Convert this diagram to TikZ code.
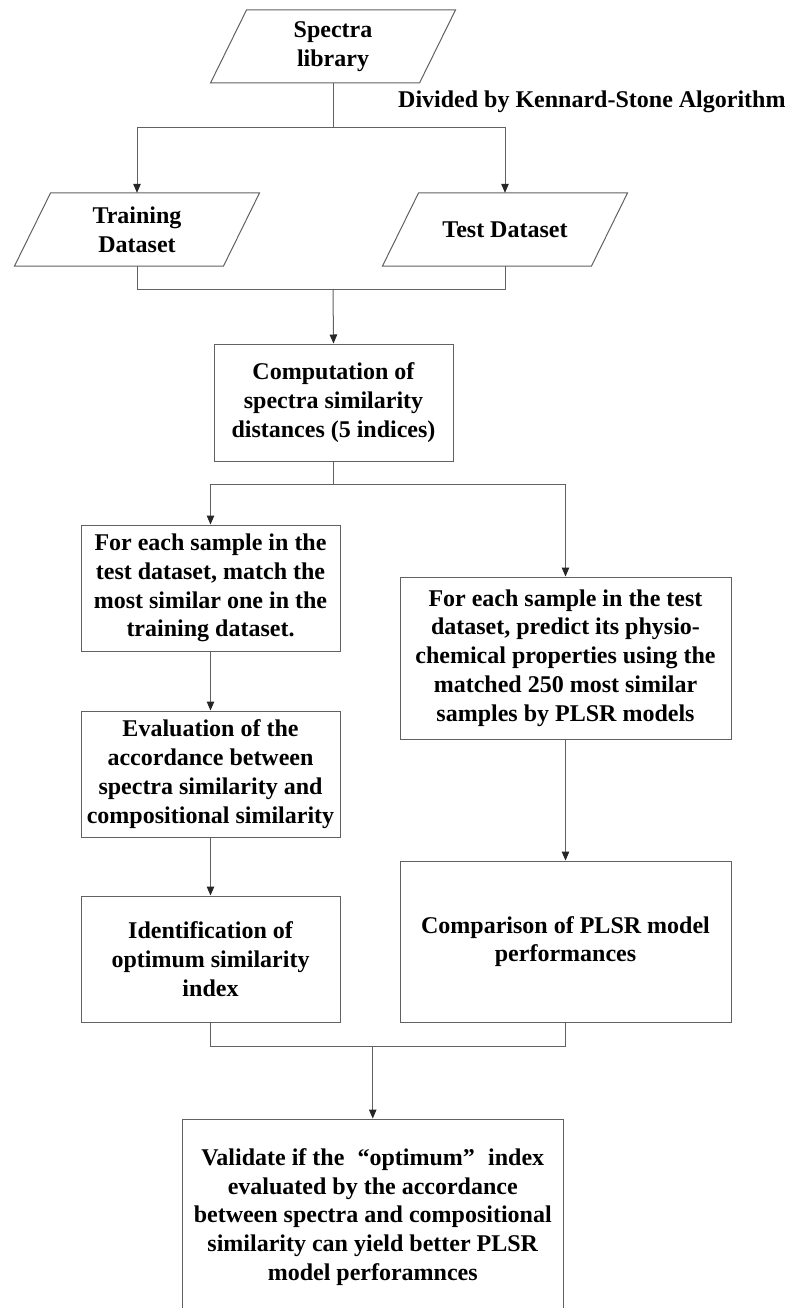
\documentclass[tikz,border=0pt]{standalone}
\usepackage{fontspec}
\setmainfont{Liberation Serif}
\usetikzlibrary{arrows.meta,calc}
\tikzset{
  ln/.style={draw=black!62, line width=1pt},
  arr/.style={ln, -{Triangle[length=9pt,width=7.5pt,color=black!85]}},
  txt/.style={font=\fontsize{24}{28.8}\selectfont\bfseries, align=center, text=black, inner sep=0pt},
  box/.style={txt, ln, rectangle},
  para/.style={txt, minimum height=73pt},
}
\newcommand\paradraw[1]{%
  \draw[ln] ($(#1)+(-86.5,-36.5)$) -- ($(#1)+(122.5,-36.5)$) -- ($(#1)+(86.5,36.5)$) -- ($(#1)+(-122.5,36.5)$) -- cycle;}
\begin{document}
\begin{tikzpicture}[x=1pt,y=-1pt]
\useasboundingbox (0,0) rectangle (786,1308);
\clip (0,0) rectangle (786,1308);
\fill[white] (0,0) rectangle (786,1308);

% parallelograms
\node[para] (spec) at (333,46.5) {Spectra\\library};
\paradraw{spec}
\node[para] (train) at (137,229.5) {Training\\Dataset};
\paradraw{train}
\node[para] (test) at (505,229.5) {Test Dataset};
\paradraw{test}

\node[txt, anchor=base west] (div) at (398,108) {Divided by Kennard-Stone Algorithm};

% boxes
\node[box, minimum width=239pt, minimum height=117pt] (comp) at (333.5,402.5)
  {Computation of\\spectra similarity\\distances (5 indices)};
\node[box, minimum width=259pt, minimum height=126pt] (lb1) at (210.5,588)
  {For each sample in the\\test dataset, match the\\most similar one in the\\training dataset.};
\node[box, minimum width=331pt, minimum height=162pt] (rb1) at (565.5,658)
  {For each sample in the test\\dataset, predict its physio-\\chemical properties using the\\matched 250 most similar\\samples by PLSR models};
\node[box, minimum width=259pt, minimum height=126pt] (lb2) at (210.5,774)
  {Evaluation of the\\accordance between\\spectra similarity and\\compositional similarity};
\node[box, minimum width=259pt, minimum height=126pt] (lb3) at (210.5,959)
  {Identification of\\optimum similarity\\index};
\node[box, minimum width=331pt, minimum height=161pt] (rb2) at (565.5,941.5)
  {Comparison of PLSR model\\performances};
\node[box, minimum width=381.5pt, minimum height=196pt] (val) at (372.75,1217)
  {Validate if the\hspace{0.55em}“optimum”\hspace{0.55em}index\\evaluated by the accordance\\between spectra and compositional\\similarity can yield better PLSR\\model perforamnces};

% connectors
\coordinate (s1) at (333,128);
\draw[ln] (spec.south) -- (s1);
\draw[arr] (s1) -| (train.north);
\draw[arr] (s1) -| (test.north);

\coordinate (j1) at (333,289);
\draw[ln] (train.south) |- (j1);
\draw[ln] (test.south) |- (j1);
\draw[arr] (j1) -- (comp.north);

\coordinate (s2) at (333.5,484);
\draw[ln] (comp.south) -- (s2);
\draw[arr] (s2) -| (lb1.north);
\draw[arr] (s2) -| (rb1.north);

\draw[arr] (lb1.south) -- (lb2.north);
\draw[arr] (lb2.south) -- (lb3.north);
\draw[arr] (rb1.south) -- (rb2.north);

\coordinate (m1) at (372.75,1046);
\draw[ln] (lb3.south) |- (m1);
\draw[ln] (rb2.south) |- (m1);
\draw[arr] (m1) -- (val.north);
\end{tikzpicture}
\end{document}
